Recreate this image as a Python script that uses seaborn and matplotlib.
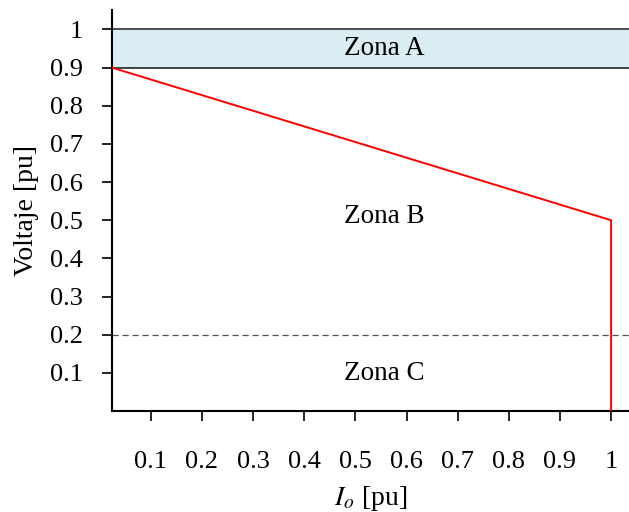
import matplotlib
matplotlib.use("Agg")
import matplotlib.pyplot as plt
import seaborn as sns
import pandas as pd

# Voltage limit curve (pu) versus output current (pu)
current_pu = [0.024, 1.0, 1.0]
voltage_pu = [0.9, 0.5, 0.0]

# Zone A band limits and zone C threshold
zone_a_low, zone_a_high = 0.9, 1.0
zone_c_limit = 0.2

tick_values = [0.1, 0.2, 0.3, 0.4, 0.5, 0.6, 0.7, 0.8, 0.9, 1.0]
tick_labels = ["0.1", "0.2", "0.3", "0.4", "0.5", "0.6", "0.7", "0.8", "0.9", "1"]

zone_names = ["Zona A", "Zona B", "Zona C"]
zone_label_y = [0.95, 0.51, 0.098]

sns.set_theme(style="ticks")
plt.rcParams["font.family"] = ["Liberation Serif", "DejaVu Serif"]
plt.rcParams["mathtext.fontset"] = "stix"
plt.rcParams["text.color"] = "black"
plt.rcParams["axes.labelcolor"] = "black"

fig = plt.figure(figsize=(6.29, 5.12), dpi=100)
ax = fig.add_axes([0.178, 1 - 411 / 512, 1 - 0.178, (411 - 10) / 512])

ax.set_xlim(0.024, 1.035)
ax.set_ylim(0.0, 1.051)

# Zone A band
ax.axhspan(zone_a_low, zone_a_high, facecolor="#d9edf2", edgecolor="none", zorder=1)
ax.axhline(zone_a_low, color="#111111", lw=1.1, zorder=2)
ax.axhline(zone_a_high, color="#222222", lw=1.1, zorder=2)

# Zone C threshold
ax.axhline(zone_c_limit, color="#555555", lw=0.9, ls=(0, (5, 3)), zorder=2)

df = pd.DataFrame({"I": current_pu, "V": voltage_pu})
sns.lineplot(data=df, x="I", y="V", sort=False, estimator=None, color="red",
             lw=1.4, ax=ax, zorder=3)

for name, yv in zip(zone_names, zone_label_y):
    ax.text(0.556, yv, name, ha="center", va="center", fontsize=19.5, color="black")

ax.set_xticks(tick_values)
ax.set_xticklabels(tick_labels)
ax.set_yticks(tick_values)
ax.set_yticklabels(tick_labels)
ax.tick_params(axis="both", direction="out", length=7, width=1.2, labelsize=19,
               colors="black")
ax.tick_params(axis="y", pad=14)
ax.tick_params(axis="x", pad=22)

for side in ("top", "right"):
    ax.spines[side].set_visible(False)
for side in ("left", "bottom"):
    ax.spines[side].set_color("black")
    ax.spines[side].set_linewidth(1.5)

ax.set_xlabel(r"$I_o$ [pu]", fontsize=20, labelpad=8)
ax.set_ylabel("Voltaje [pu]", fontsize=20, labelpad=8)

fig.savefig("out.png", dpi=100, facecolor="white")
